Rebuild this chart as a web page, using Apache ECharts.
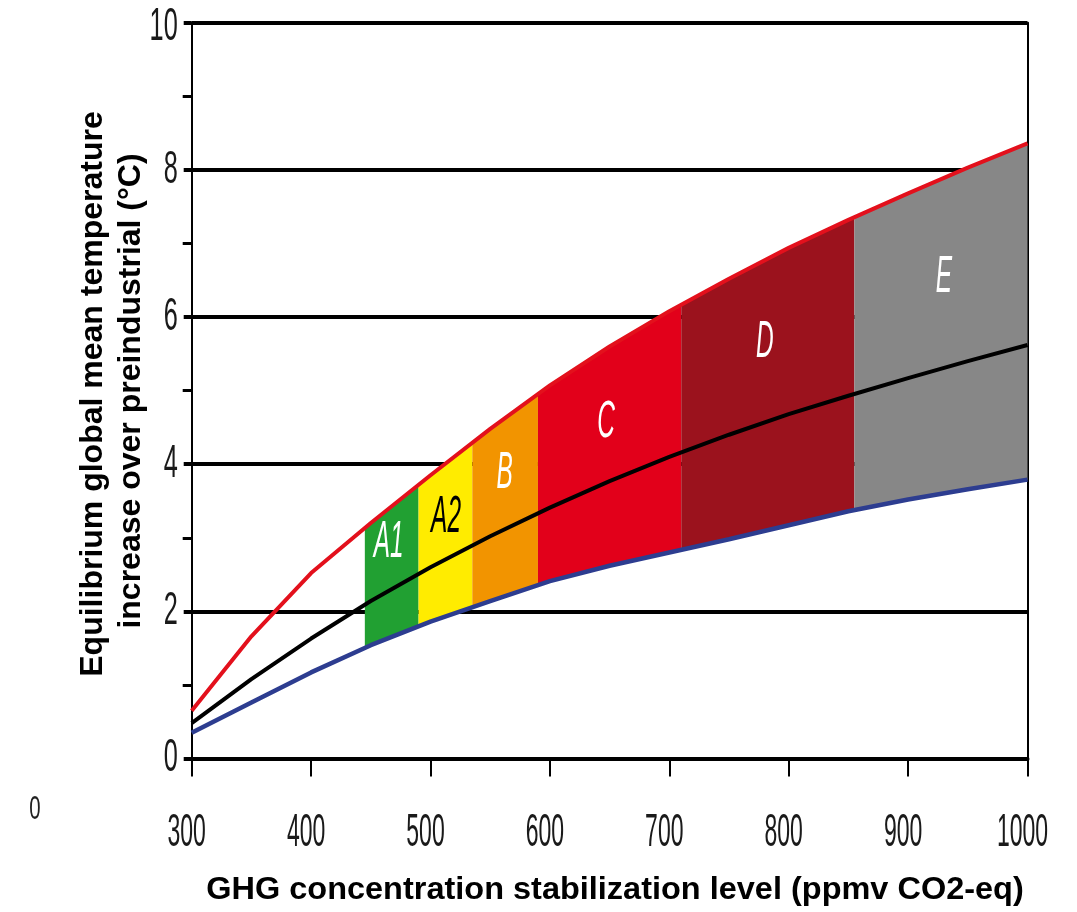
<!DOCTYPE html>
<html><head><meta charset="utf-8">
<script src="https://cdn.jsdelivr.net/npm/echarts@6/dist/echarts.min.js"></script>
<style>html,body{margin:0;padding:0;background:#fff}#c{width:1077px;height:912px}</style>
</head><body><div id="c"></div>
<script>
// GHG concentration (ppmv CO2-eq)
const ppm    = [300, 350, 400, 450, 500, 550, 600, 650, 700, 750, 800, 850, 900, 950, 1000];
// upper (red), best estimate (black), lower (blue) equilibrium warming (°C)
const upperT = [0.65, 1.66, 2.52, 3.20, 3.85, 4.48, 5.07, 5.60, 6.08, 6.52, 6.94, 7.32, 7.68, 8.03, 8.36];
const bestT  = [0.48, 1.08, 1.63, 2.14, 2.60, 3.02, 3.41, 3.77, 4.10, 4.40, 4.68, 4.93, 5.17, 5.40, 5.62];
const lowerT = [0.35, 0.76, 1.17, 1.54, 1.86, 2.14, 2.41, 2.62, 2.80, 2.98, 3.17, 3.36, 3.52, 3.66, 3.79];

// stabilization categories
const bandNames  = ['A1', 'A2', 'B', 'C', 'D', 'E'];
const bandStart  = [445, 490, 535, 590, 710, 855];
const bandEnd    = [490, 535, 590, 710, 855, 1000];
const bandColors = ['#21a032', '#ffec00', '#f29400', '#e2001a', '#9b121d', '#878787'];
const bandLabelX = [465, 513, 562, 647, 780, 930];
const bandLabelY = [2.94, 3.28, 3.87, 4.57, 5.66, 6.54];
const bandLabelColors = ['#ffffff', '#000000', '#ffffff', '#ffffff', '#ffffff', '#ffffff'];

// ticks
const xTicks = [300, 400, 500, 600, 700, 800, 900, 1000];
const xTickLabels = ['300', '400', '500', '600', '700', '800', '900', '1000'];
const yTicks = [0, 2, 4, 6, 8, 10];
const yTickLabels = ['0', '2', '4', '6', '8', '10'];

const FONT = "'Liberation Sans', Arial, Helvetica, sans-serif";

function interp(arr, x) {
  for (let i = 0; i < ppm.length - 1; i++) {
    if (x >= ppm[i] && x <= ppm[i + 1]) {
      const t = (x - ppm[i]) / (ppm[i + 1] - ppm[i]);
      return arr[i] + t * (arr[i + 1] - arr[i]);
    }
  }
  return arr[arr.length - 1];
}

const chart = echarts.init(document.getElementById('c'));
const zip = a => ppm.map((x, i) => [x, a[i]]);

chart.setOption({
  animation: false,
  backgroundColor: '#ffffff',
  grid: { left: 191.7, right: 49.5, top: 22.7, bottom: 153.5, containLabel: false },
  xAxis: {
    type: 'value', min: 300, max: 1000, interval: 100,
    axisLine: { show: true, onZero: false, lineStyle: { color: '#000', width: 4 } },
    axisTick: { show: true, length: 18, lineStyle: { color: '#000', width: 2 } },
    axisLabel: { show: false },
    splitLine: { show: false }
  },
  yAxis: [{
    type: 'value', min: 0, max: 10, interval: 2,
    axisLine: { show: true, onZero: false, lineStyle: { color: '#000', width: 2 } },
    axisTick: { show: true, length: 8, lineStyle: { color: '#000', width: 4 } },
    minorTick: { show: true, splitNumber: 2, length: 9, lineStyle: { color: '#000', width: 3 } },
    axisLabel: { show: false },
    splitLine: { show: true, lineStyle: { color: '#000', width: 4 } }
  }, {
    type: 'value', min: 0, max: 10, interval: 2, position: 'right',
    axisLine: { show: true, onZero: false, lineStyle: { color: '#000', width: 2 } },
    axisTick: { show: false }, axisLabel: { show: false }, splitLine: { show: false }
  }],
  series: [
    {
      type: 'custom', z: 2, clip: true,
      data: bandNames.map((n, i) => [bandStart[i], bandEnd[i], i]),
      encode: { x: [0, 1] },
      renderItem: function (params, api) {
        const i = params.dataIndex;
        const s = bandStart[i], e = bandEnd[i];
        const top = [[s, interp(upperT, s)]];
        const bot = [[s, interp(lowerT, s)]];
        ppm.forEach((x, k) => { if (x > s && x < e) { top.push([x, upperT[k]]); bot.push([x, lowerT[k]]); } });
        top.push([e, interp(upperT, e)]);
        bot.push([e, interp(lowerT, e)]);
        const pts = top.concat(bot.reverse()).map(p => api.coord(p));
        return { type: 'polygon', shape: { points: pts }, style: { fill: bandColors[i] } };
      }
    },
    { type: 'line', z: 4, data: zip(upperT), symbol: 'none', smooth: false, lineStyle: { color: '#e3101c', width: 4 } },
    { type: 'line', z: 4, data: zip(lowerT), symbol: 'none', smooth: false, lineStyle: { color: '#2d3d90', width: 4.5 } },
    { type: 'line', z: 5, data: zip(bestT), symbol: 'none', smooth: false, lineStyle: { color: '#000000', width: 4 } }
  ]
});

// texts positioned through the axes' scales
const g = [];
const px = p => chart.convertToPixel({ xAxisIndex: 0, yAxisIndex: 0 }, p);
const txt = (text, x, y, o) => Object.assign({
  type: 'text', x: x, y: y, z: 100,
  style: {
    text: text, fill: o.fill || '#1a1a1a',
    font: (o.style || 'normal') + ' ' + (o.weight || 'normal') + ' ' + o.size + 'px ' + FONT,
    align: o.align || 'center', verticalAlign: 'middle',
    textAlign: o.align || 'center', textVerticalAlign: 'middle'
  }
}, o.extra || {});

xTicks.forEach((v, i) => {
  const p = px([v, 0]);
  g.push(txt(xTickLabels[i], p[0] - 5, 833, { size: 46, extra: { scaleX: 0.5 } }));
});
yTicks.forEach((v, i) => {
  const p = px([300, v]);
  g.push(txt(yTickLabels[i], p[0] - 14, p[1] + (v === 10 ? 5 : 0), { size: 46, align: 'right', extra: { scaleX: 0.55 } }));
});
bandNames.forEach((n, i) => {
  const p = px([bandLabelX[i], bandLabelY[i]]);
  g.push(txt(n, p[0], p[1], { size: 52, style: 'italic', fill: bandLabelColors[i], extra: { scaleX: 0.47 } }));
});
// axis titles
g.push(txt('Equilibrium global mean temperature', 93, 394, { size: 32, weight: 'bold', fill: '#000', extra: { rotation: Math.PI / 2 } }));
g.push(txt('increase over preindustrial (°C)', 131, 391, { size: 32, weight: 'bold', fill: '#000', extra: { rotation: Math.PI / 2 } }));
g.push(txt('GHG concentration stabilization level (ppmv CO2-eq)', 615, 890, { size: 32, weight: 'bold', fill: '#000', extra: { scaleX: 1.015 } }));
g.push(txt('0', 35, 810, { size: 34, fill: '#222', extra: { scaleX: 0.6 } }));

chart.setOption({ graphic: g });
</script>
</body></html>
